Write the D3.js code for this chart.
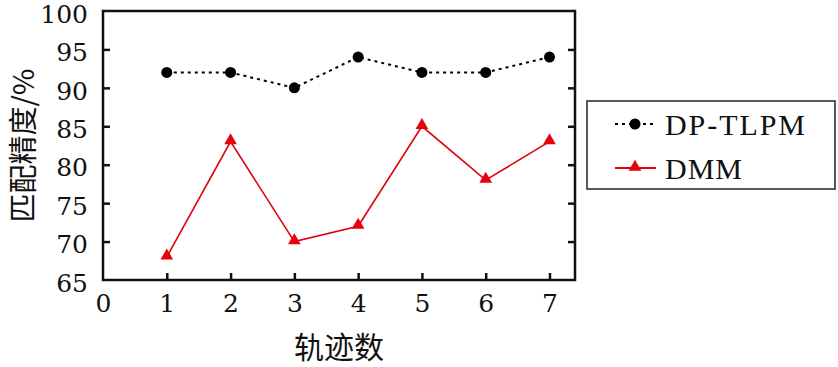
<!DOCTYPE html>
<html>
<head>
<meta charset="utf-8">
<script src="https://cdn.jsdelivr.net/npm/d3@7"></script>
<style>
  body { margin: 0; background: #fff; }
  svg text { font-family: "DejaVu Serif", serif; fill: #111; }
  svg text.legend-label { font-family: "Liberation Serif", "DejaVu Serif", serif; }
  svg text.cjk { font-family: "Noto Sans CJK SC", sans-serif; }
</style>
</head>
<body>
<svg id="chart" width="838" height="367"></svg>
<script>
// values
const tracks = [1, 2, 3, 4, 5, 6, 7];
const dpTlpm = [92, 92, 90, 94, 92, 92, 94];
const dmm = [68, 83, 70, 72, 85, 78, 83];
const xTicks = [0, 1, 2, 3, 4, 5, 6, 7];
const yTicks = [65, 70, 75, 80, 85, 90, 95, 100];
const seriesNames = ["DP-TLPM", "DMM"];

const svg = d3.select("#chart");
const plotLeft = 103, plotRight = 575, plotTop = 11, plotBottom = 280;

const x = d3.scaleLinear().domain([0, 7.4]).range([plotLeft, plotRight]);
const y = d3.scaleLinear().domain([65, 100]).range([plotBottom, plotTop]);

// frame
svg.append("rect")
    .attr("x", plotLeft).attr("y", plotTop)
    .attr("width", plotRight - plotLeft).attr("height", plotBottom - plotTop)
    .attr("fill", "none").attr("stroke", "#111").attr("stroke-width", 2.5);

// bottom axis, ticks point inward
let xAxis = svg.append("g").attr("transform", "translate(0," + plotBottom + ")")
    .call(d3.axisBottom(x).tickValues(xTicks).tickSizeInner(-7).tickSizeOuter(0).tickPadding(14));
xAxis.attr("font-family", null).attr("font-size", null);
xAxis.select(".domain").remove();
xAxis.selectAll(".tick line").attr("stroke", "#111").attr("stroke-width", 2.5)
    .filter(d => d === 0).remove();
xAxis.selectAll("text").style("font-size", "25px").attr("fill", "#111");

// left axis
let yAxis = svg.append("g").attr("transform", "translate(" + plotLeft + ",0)")
    .call(d3.axisLeft(y).tickValues(yTicks).tickSizeInner(-7).tickSizeOuter(0).tickPadding(15));
yAxis.attr("font-family", null).attr("font-size", null);
yAxis.select(".domain").remove();
yAxis.selectAll(".tick line").attr("stroke", "#111").attr("stroke-width", 2.5)
    .filter(d => d === 65 || d === 100).remove();
yAxis.selectAll("text").style("font-size", "25px").attr("dy", "0.45em").attr("fill", "#111");

// right axis, ticks only
let yRight = svg.append("g").attr("transform", "translate(" + plotRight + ",0)")
    .call(d3.axisRight(y).tickValues(yTicks.filter(d => d > 65 && d < 100)).tickSizeInner(-7).tickSizeOuter(0));
yRight.select(".domain").remove();
yRight.selectAll(".tick line").attr("stroke", "#111").attr("stroke-width", 2.5);
yRight.selectAll("text").remove();

// axis titles
svg.append("text").attr("class", "cjk")
    .attr("x", (plotLeft + plotRight) / 2).attr("y", 358)
    .attr("text-anchor", "middle").style("font-size", "30px")
    .text("轨迹数");

svg.append("text").attr("class", "cjk")
    .attr("transform", "translate(34," + (plotTop + plotBottom) / 2 + ") rotate(-90)")
    .attr("text-anchor", "middle").style("font-size", "29px")
    .text("匹配精度/%");

const line = d3.line().x((d, i) => x(tracks[i])).y(d => y(d));

// DP-TLPM: dotted black with circles
svg.append("path").datum(dpTlpm)
    .attr("d", line).attr("fill", "none")
    .attr("stroke", "#000").attr("stroke-width", 2).attr("stroke-dasharray", "3,4");
svg.selectAll(".dot").data(dpTlpm).enter().append("circle")
    .attr("class", "dot")
    .attr("cx", (d, i) => x(tracks[i])).attr("cy", d => y(d))
    .attr("r", 5.5).attr("fill", "#000");

// DMM: solid red with triangles
const tri = d3.symbol().type(d3.symbolTriangle).size(70);
svg.append("path").datum(dmm)
    .attr("d", line).attr("fill", "none")
    .attr("stroke", "#e0000b").attr("stroke-width", 1.6);
svg.selectAll(".tri").data(dmm).enter().append("path")
    .attr("class", "tri")
    .attr("transform", (d, i) => "translate(" + x(tracks[i]) + "," + (y(d) - 1) + ")")
    .attr("d", tri).attr("fill", "#e8000b");

// legend
const legend = svg.append("g");
legend.append("rect")
    .attr("x", 587).attr("y", 101).attr("width", 248).attr("height", 88)
    .attr("fill", "#fff").attr("stroke", "#222").attr("stroke-width", 1.5);

const rows = [124, 168];
const labelWidths = [140, 77];
seriesNames.forEach(function(name, i){
    let g = legend.append("g").attr("transform", "translate(0," + rows[i] + ")");
    if (i === 0){
        g.append("line").attr("x1", 615).attr("x2", 656).attr("y1", 0).attr("y2", 0)
            .attr("stroke", "#000").attr("stroke-width", 2).attr("stroke-dasharray", "3,4");
        g.append("circle").attr("cx", 635).attr("cy", 0).attr("r", 5.5).attr("fill", "#000");
    } else {
        g.append("line").attr("x1", 615).attr("x2", 656).attr("y1", 0).attr("y2", 0)
            .attr("stroke", "#e0000b").attr("stroke-width", 2);
        g.append("path").attr("transform", "translate(635,-1)").attr("d", tri).attr("fill", "#e8000b");
    }
    g.append("text").attr("class", "legend-label").attr("x", 665).attr("y", 11)
        .style("font-size", "30px").attr("textLength", labelWidths[i]).attr("lengthAdjust", "spacing")
        .text(name);
});
</script>
</body>
</html>
